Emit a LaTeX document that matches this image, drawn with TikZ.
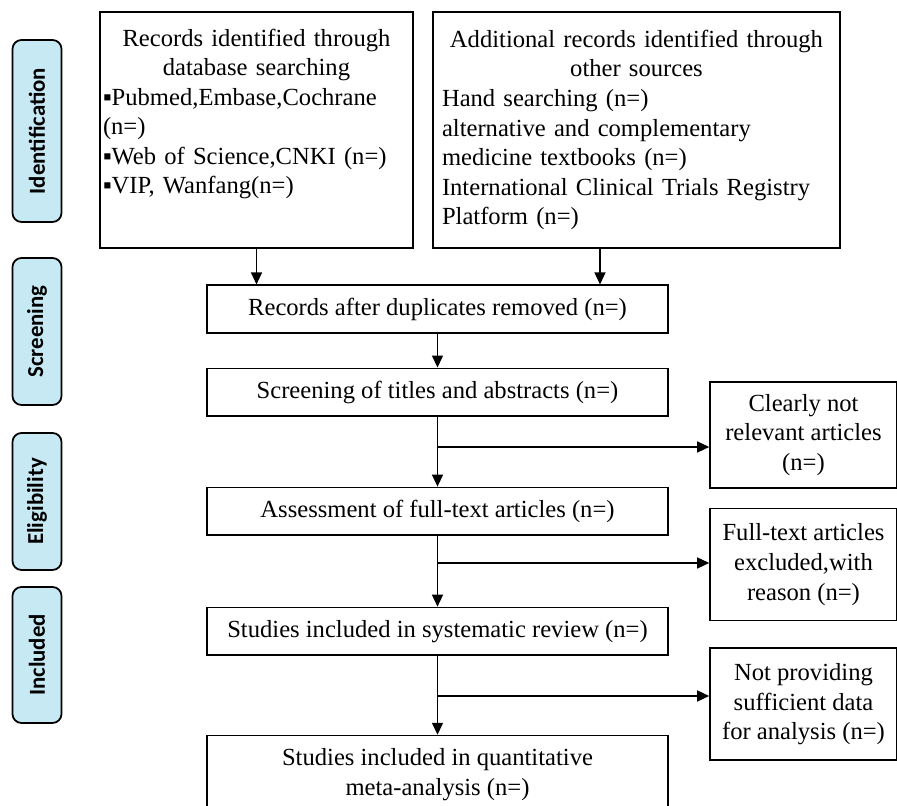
\documentclass[tikz,border=0pt]{standalone}
\usepackage{fontspec}
\setmainfont{Liberation Serif}
\newfontfamily\fasefont{Carlito}
\usetikzlibrary{arrows.meta,positioning}
\definecolor{azulfase}{RGB}{199,233,244}

\begin{document}
\begin{tikzpicture}[
    node distance=0.7cm,
    caixa/.style={draw, line width=0.9pt, align=center, minimum width=9.22cm, minimum height=0.95cm, inner sep=2pt, font=\fontsize{14}{16.8}\selectfont},
    fonte/.style={draw, line width=0.9pt, minimum height=4.72cm, inner ysep=2pt, font=\fontsize{14}{16.8}\selectfont},
    lateral/.style={caixa, minimum width=3.74cm, minimum height=2.24cm},
    fase/.style={draw, line width=1pt, rounded corners=0.18cm, fill=azulfase, rotate=90, minimum height=0.98cm, font=\fasefont\bfseries\fontsize{13}{15}\selectfont},
    seta/.style={-{Triangle[length=2.4mm, width=2.2mm]}, line width=0.8pt}
  ]
    \useasboundingbox (0,0) rectangle (17.94,-16.12);

    \node[fase, minimum width=3.64cm] (identificacao) at (0.74,-2.62) {Identification};
    \node[fase, minimum width=2.94cm] (triagem) at (0.74,-6.63) {Screening};
    \node[fase, minimum width=2.74cm] (elegibilidade) at (0.74,-10.03) {Eligibility};
    \node[fase, minimum width=2.72cm] (incluidos) at (0.74,-13.10) {Included};

    \node[fonte, inner xsep=0.06cm, text width=6.14cm] (bases) at (5.13,-2.60) {\setlength{\parindent}{0pt}{\centering Records identified through\\database searching\par}\raggedright ▪Pubmed,Embase,Cochrane\\(n=)\\▪Web of Science,CNKI (n=)\\▪VIP, Wanfang(n=)\par\rule{0pt}{0.6cm}};
    \node[fonte, inner xsep=0.18cm, text width=7.78cm] (outras) at (12.73,-2.60) {\setlength{\parindent}{0pt}{\centering Additional records identified through\\other sources\par}\raggedright Hand searching (n=)\\alternative and complementary\\medicine textbooks (n=)\\International Clinical Trials Registry\\Platform (n=)\par};

    \node[caixa] (duplicados) at (8.75,-6.18) {Records after duplicates removed (n=)};
    \node[caixa, below=0.68cm of duplicados] (titulos) {Screening of titles and abstracts (n=)};
    \node[caixa, below=1.40cm of titulos] (textos) {Assessment of full-text articles (n=)};
    \node[caixa, below=1.42cm of textos] (revisao) {Studies included in systematic review (n=)};
    \node[caixa, below=1.58cm of revisao, minimum height=1.56cm] (meta) {Studies included in quantitative\\meta-analysis (n=)};

    \node[lateral, minimum height=2.12cm] (irrelevantes) at (16.07,-8.70) {Clearly not\\relevant articles\\(n=)};
    \node[lateral, below=0.38cm of irrelevantes] (excluidos) {Full-text articles\\excluded,with\\reason (n=)};
    \node[lateral, below=0.52cm of excluidos] (insuficientes) {Not providing\\sufficient data\\for analysis (n=)};

    \coordinate (desvio1) at (8.75,-8.94);
    \coordinate (desvio2) at (8.75,-11.26);
    \coordinate (desvio3) at (8.75,-13.92);

    \draw[seta] (bases.south) -- (bases.south |- duplicados.north);
    \draw[seta] ([xshift=-0.73cm]outras.south) -- ([xshift=-0.73cm]outras.south |- duplicados.north);
    \draw[seta] (duplicados) -- (titulos);
    \draw[seta] (titulos) -- (textos);
    \draw[seta] (desvio1) -- (desvio1 -| irrelevantes.west);
    \draw[seta] (textos) -- (revisao);
    \draw[seta] (desvio2) -- (desvio2 -| excluidos.west);
    \draw[seta] (revisao) -- (meta);
    \draw[seta] (desvio3) -- (desvio3 -| insuficientes.west);
  \end{tikzpicture}
\end{document}
